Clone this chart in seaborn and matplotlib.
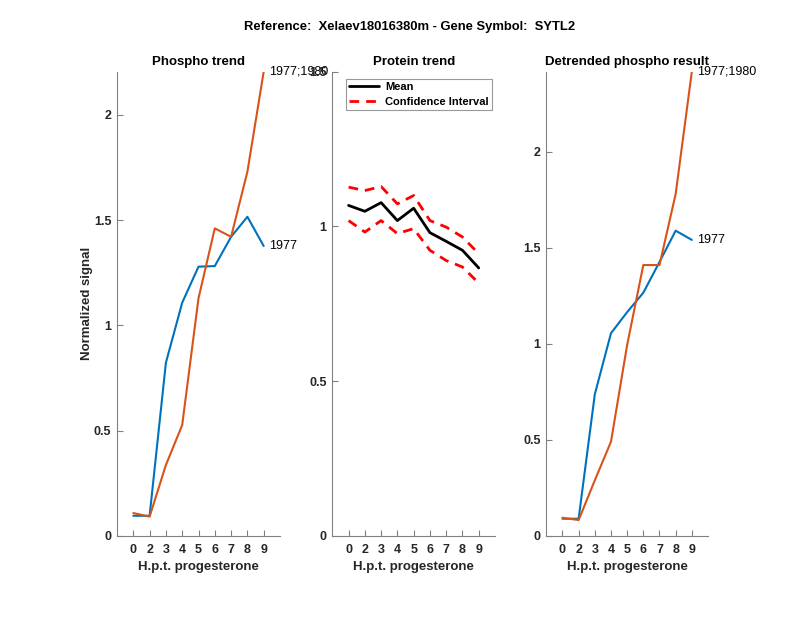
import matplotlib
matplotlib.use("Agg")
import matplotlib.pyplot as plt
import seaborn as sns
import pandas as pd
import numpy as np

sns.set_theme(style="white")
plt.rcParams['font.family'] = ['Liberation Sans', 'DejaVu Sans']

# ---- data ----
positions = [1, 2, 3, 4, 5, 6, 7, 8, 9]
tick_labels = ['0', '2', '3', '4', '5', '6', '7', '8', '9']

phospho_1977 = [0.096, 0.096, 0.823, 1.108, 1.279, 1.282, 1.421, 1.516, 1.377]
phospho_1977_1980 = [0.109, 0.092, 0.337, 0.527, 1.129, 1.461, 1.421, 1.730, 2.205]

protein_mean = [1.068, 1.049, 1.077, 1.019, 1.059, 0.980, 0.952, 0.923, 0.866]
protein_upper = [1.127, 1.116, 1.129, 1.073, 1.100, 1.019, 0.998, 0.966, 0.912]
protein_lower = [1.019, 0.982, 1.019, 0.977, 0.993, 0.923, 0.890, 0.869, 0.817]

detr_1977 = [0.090, 0.090, 0.738, 1.056, 1.166, 1.267, 1.427, 1.590, 1.542]
detr_1977_1980 = [0.095, 0.083, 0.290, 0.491, 0.995, 1.411, 1.411, 1.781, 2.418]

label_a = '1977'
label_b = '1977;1980'

blue = '#0072BD'
orange = '#D95319'
axcol = '#808080'
txtcol = '#262626'

fig = plt.figure(figsize=(8, 6.18), dpi=100)

def style_axes(ax, ymax, yticks, yticklabels):
    ax.set_xlim(0, 10)
    ax.set_ylim(0, ymax)
    ax.set_xticks(positions)
    ax.set_xticklabels(tick_labels)
    ax.set_yticks(yticks)
    ax.set_yticklabels(yticklabels)
    for s in ['top', 'right']:
        ax.spines[s].set_visible(False)
    for s in ['left', 'bottom']:
        ax.spines[s].set_color(axcol)
        ax.spines[s].set_linewidth(0.8)
    ax.tick_params(bottom=True, left=True, direction='in', length=4, width=0.8,
                   color=axcol, labelsize=9, labelcolor=txtcol)
    ax.tick_params(axis='x', pad=5.5)
    ax.tick_params(axis='y', pad=4)
    for lab in ax.get_xticklabels() + ax.get_yticklabels():
        lab.set_fontweight('bold')
    ax.set_xlabel('H.p.t. progesterone', fontsize=9.5, fontweight='bold',
                  color=txtcol, labelpad=4)
    ax.grid(False)

bottom = 1 - 536 / 618
height = (536 - 71.7) / 618

# left panel
ax1 = fig.add_axes([117 / 800, bottom, 163 / 800, height])
df1 = pd.DataFrame({'x': positions * 2,
                    'y': phospho_1977 + phospho_1977_1980,
                    'id': [label_a] * 9 + [label_b] * 9})
sns.lineplot(data=df1, x='x', y='y', hue='id', palette=[blue, orange],
             linewidth=1.5, ax=ax1, legend=False)
style_axes(ax1, 2.205, [0, 0.5, 1, 1.5, 2], ['0', '0.5', '1', '1.5', '2'])
ax1.set_ylabel('Normalized signal', fontsize=9.5, fontweight='bold', color=txtcol, labelpad=1)
ax1.set_title('Phospho trend', fontsize=9.5, fontweight='bold', color='black', pad=5)
ax1.text(9.35, phospho_1977[-1], label_a, fontsize=9, va='center', ha='left', color='black', clip_on=False)
ax1.text(9.35, phospho_1977_1980[-1], label_b, fontsize=9, va='center', ha='left', color='black', clip_on=False)

# middle panel
ax2 = fig.add_axes([332.3 / 800, bottom, 162.7 / 800, height])
df2 = pd.DataFrame({'x': positions, 'mean': protein_mean,
                    'upper': protein_upper, 'lower': protein_lower})
sns.lineplot(data=df2, x='x', y='mean', color='black', linewidth=2, ax=ax2, label='Mean')
sns.lineplot(data=df2, x='x', y='upper', color='red', linewidth=2, ax=ax2,
             label='Confidence Interval')
sns.lineplot(data=df2, x='x', y='lower', color='red', linewidth=2, ax=ax2)
for ln in ax2.get_lines()[1:]:
    ln.set_linestyle((0, (3.5, 2.5)))
style_axes(ax2, 1.5, [0, 0.5, 1, 1.5], ['0', '0.5', '1', '1.5'])
ax2.set_ylabel('')
ax2.set_title('Protein trend', fontsize=9.5, fontweight='bold', color='black', pad=5)
leg = ax2.legend(loc='upper left', bbox_to_anchor=(0.082, 0.985), fontsize=8,
                 frameon=True, fancybox=False, edgecolor=axcol, borderpad=0.3,
                 handlelength=2.7, handletextpad=0.55, labelspacing=0.45, borderaxespad=0)
leg.get_frame().set_linewidth(0.8)
for t in leg.get_texts():
    t.set_fontweight('bold')
    t.set_color('black')

# right panel
ax3 = fig.add_axes([546.3 / 800, bottom, 161.7 / 800, height])
df3 = pd.DataFrame({'x': positions * 2,
                    'y': detr_1977 + detr_1977_1980,
                    'id': [label_a] * 9 + [label_b] * 9})
sns.lineplot(data=df3, x='x', y='y', hue='id', palette=[blue, orange],
             linewidth=1.5, ax=ax3, legend=False)
style_axes(ax3, 2.418, [0, 0.5, 1, 1.5, 2], ['0', '0.5', '1', '1.5', '2'])
ax3.set_ylabel('')
ax3.set_title('Detrended phospho result', fontsize=9.5, fontweight='bold', color='black', pad=5)
ax3.text(9.35, detr_1977[-1], label_a, fontsize=9, va='center', ha='left', color='black', clip_on=False)
ax3.text(9.35, detr_1977_1980[-1], label_b, fontsize=9, va='center', ha='left', color='black', clip_on=False)

fig.text(410 / 800, 1 - 27 / 618, 'Reference:  Xelaev18016380m - Gene Symbol:  SYTL2',
         ha='center', va='center', fontsize=9.4, fontweight='bold', color='black')

fig.savefig('out.png', dpi=100)
